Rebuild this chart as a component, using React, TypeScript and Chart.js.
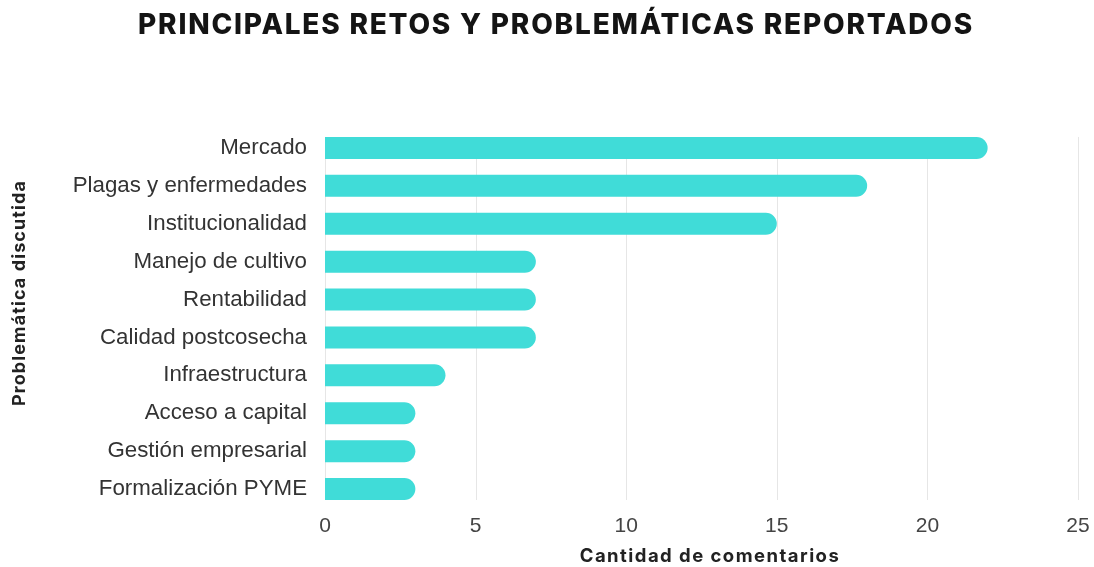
import React, { useEffect, useRef } from "react";
import { Chart, registerables } from "chart.js";

Chart.register(...registerables);

const chartTitle = "PRINCIPALES RETOS Y PROBLEMÁTICAS REPORTADOS";
const xAxisTitle = "Cantidad de comentarios";
const yAxisTitle = "Problemática discutida";

const categories = [
  "Mercado",
  "Plagas y enfermedades",
  "Institucionalidad",
  "Manejo de cultivo",
  "Rentabilidad",
  "Calidad postcosecha",
  "Infraestructura",
  "Acceso a capital",
  "Gestión empresarial",
  "Formalización PYME",
];

const commentCounts = [22, 18, 15, 7, 7, 7, 4, 3, 3, 3];

const xTickMin = 0;
const xTickMax = 25;
const xTickStep = 5;

const BAR_COLOR = "#40DCD8";

function fitText(ctx: CanvasRenderingContext2D, text: string, target: number) {
  (ctx as any).letterSpacing = "0px";
  const w = ctx.measureText(text).width;
  const ls = (target - w) / Math.max(1, text.length - 1);
  (ctx as any).letterSpacing = ls.toFixed(2) + "px";
}

const decorPlugin = {
  id: "decor",
  beforeDatasetsDraw(chart: any) {
    const ctx = chart.ctx as CanvasRenderingContext2D;
    const meta = chart.getDatasetMeta(0);
    const bars = meta.data;
    if (!bars.length) return;
    const first = bars[0];
    const last = bars[bars.length - 1];
    const top = first.y - first.height / 2;
    const bottom = last.y + last.height / 2;
    const xScale = chart.scales.x;
    ctx.save();
    ctx.strokeStyle = "#e6e6e6";
    ctx.lineWidth = 1;
    xScale.ticks.forEach((t: any) => {
      const x = Math.round(xScale.getPixelForValue(t.value)) + 0.5;
      ctx.beginPath();
      ctx.moveTo(x, top);
      ctx.lineTo(x, bottom);
      ctx.stroke();
    });
    ctx.restore();
  },
  afterDraw(chart: any) {
    const ctx = chart.ctx as CanvasRenderingContext2D;
    ctx.save();
    ctx.textAlign = "center";
    ctx.textBaseline = "middle";
    // main title
    ctx.fillStyle = "#141414";
    ctx.font = "800 28px Inter";
    fitText(ctx, chartTitle, 834);
    ctx.fillText(chartTitle, 556, 26);
    // x axis title
    ctx.fillStyle = "#222";
    ctx.font = "700 18.5px Inter";
    fitText(ctx, xAxisTitle, 259);
    ctx.fillText(xAxisTitle, 710, 556);
    // y axis title
    ctx.translate(20, 293);
    ctx.rotate(-Math.PI / 2);
    ctx.font = "700 18px Inter";
    fitText(ctx, yAxisTitle, 225);
    ctx.fillText(yAxisTitle, 0, 0);
    ctx.restore();
  },
};

export default function App() {
  const canvasRef = useRef<HTMLCanvasElement | null>(null);

  useEffect(() => {
    if (!canvasRef.current) return;
    const chart = new Chart(canvasRef.current, {
      type: "bar",
      data: {
        labels: categories,
        datasets: [
          {
            data: commentCounts,
            backgroundColor: BAR_COLOR,
            borderWidth: 0,
            borderRadius: 11,
            borderSkipped: "start",
            categoryPercentage: 1,
            barPercentage: 0.58,
          },
        ],
      },
      plugins: [decorPlugin],
      options: {
        indexAxis: "y",
        animation: false,
        responsive: true,
        maintainAspectRatio: false,
        layout: { padding: { top: 129, right: 16, bottom: 0, left: 0 } },
        plugins: {
          legend: { display: false },
          title: { display: false },
          tooltip: { enabled: false },
        },
        scales: {
          x: {
            type: "linear",
            min: xTickMin,
            max: xTickMax,
            ticks: {
              stepSize: xTickStep,
              font: { family: "'Liberation Sans', Arial, sans-serif", size: 21 },
              color: "#444",
              padding: 6,
            },
            grid: { display: false, drawTicks: false },
            border: { display: false },
            afterFit(scale: any) {
              scale.height = 59;
              scale.paddingRight = 0;
              scale.paddingLeft = 0;
            },
          },
          y: {
            type: "category",
            ticks: {
              font: { family: "'Liberation Sans', Arial, sans-serif", size: 22.3 },
              color: "#333",
              padding: 18,
            },
            grid: { display: false, drawTicks: false },
            border: { display: false },
            afterFit(scale: any) {
              scale.width = 325;
              scale.paddingTop = 0;
              scale.paddingBottom = 0;
            },
          },
        },
      },
    } as any);
    return () => chart.destroy();
  }, []);

  return (
    <div style={{ position: "fixed", left: 0, top: 0, width: 1094, height: 567, background: "#fff" }}>
      <canvas ref={canvasRef} />
    </div>
  );
}
